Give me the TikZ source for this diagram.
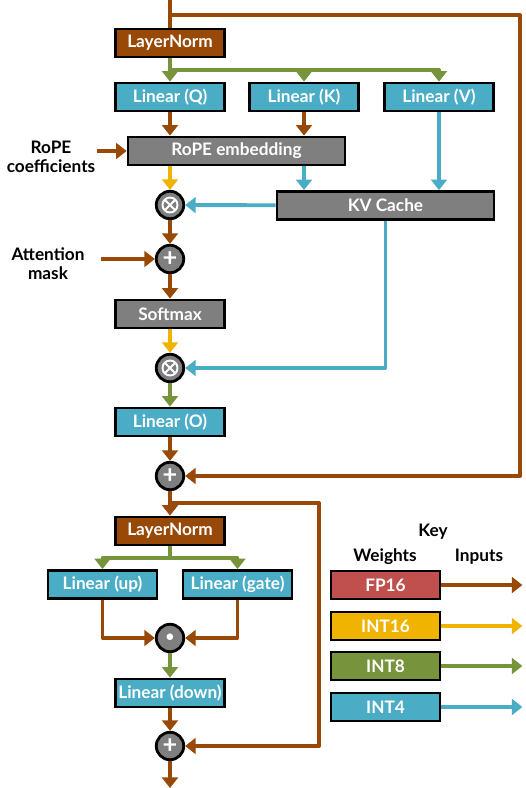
\documentclass[tikz,border=0pt]{standalone}
\usepackage{fontspec}
\setmainfont{Lato}
\usetikzlibrary{arrows.meta,positioning,calc}
\definecolor{fpc}{HTML}{984807}
\definecolor{fpw}{HTML}{C0504D}
\definecolor{ihc}{HTML}{F0B400}
\definecolor{iec}{HTML}{77933C}
\definecolor{ifc}{HTML}{4BACC6}
\definecolor{opc}{HTML}{7F7F7F}
\tikzset{
  blk/.style={rectangle,draw=black,line width=1.6pt,minimum width=2.18cm,
    minimum height=0.56cm,inner sep=0pt,text=white,
    font=\bfseries\fontsize{9.8}{11}\selectfont},
  lin/.style={blk,fill=ifc},
  norm/.style={blk,fill=fpc},
  proc/.style={blk,fill=opc},
  wide/.style={minimum width=4.34cm},
  op/.style={circle,draw=black,line width=1.6pt,fill=opc,minimum size=0.55cm,
    inner sep=0pt,text=white},
  mulop/.style={op,path picture={
    \draw[white,line width=1.1pt] (path picture bounding box.center) circle (0.15cm);
    \draw[white,line width=1.1pt] ($(path picture bounding box.center)+(-0.106cm,-0.106cm)$)
      -- ++(0.212cm,0.212cm) ++(0,-0.212cm) -- ++(-0.212cm,0.212cm);}},
  lbl/.style={align=center,font=\bfseries\fontsize{9.8}{11}\selectfont,inner sep=0pt},
  flow/.style={line width=2.2pt,line join=round,
    -{Triangle[width=9pt,length=6pt]}},
  keyflow/.style={line width=1.8pt,-{Triangle[width=9pt,length=6pt]}},
}
\begin{document}
\begin{tikzpicture}[x=0.02cm,y=-0.02cm]
\useasboundingbox (0,0) rectangle (526,788);
% attention block
\node[norm](ln1) at (170,43){LayerNorm};
\node[lin](lq) at (170,97){Linear (Q)};
\node[lin](lk) at (304,97){Linear (K)};
\node[lin](lv) at (439,97){Linear (V)};
\node[proc,wide](rope) at (236.5,151){RoPE embedding};
\node[proc,wide](kv) at (385.5,205.5){KV Cache};
\node[mulop](mul1) at (170,205){};
\node[op](add1) at (170,259){\Large\bfseries +};
\node[proc](smax) at (170,314){Softmax};
\node[mulop](mul2) at (170,368){};
\node[lin](lo) at (170,422){Linear (O)};
\node[op](add2) at (170,476){\Large\bfseries +};
% mlp block
\node[norm](ln2) at (170,531){LayerNorm};
\node[lin](lup) at (102.5,584.5){Linear (up)};
\node[lin](lgate) at (237.5,584.5){Linear (gate)};
\node[op](dot) at (170,638){\textbullet};
\node[lin](ldown) at (170,693){Linear (down)};
\node[op](add3) at (170,746){\Large\bfseries +};
% side inputs
\node[lbl](rcoef) at (51,157){RoPE\\coefficients};
\node[lbl](amask) at (48,264){Attention\\mask};
\coordinate (rin) at (97,151);
\coordinate (ain) at (101,259);
\coordinate (top) at (170,0);
\coordinate (res1) at (170,15);
\coordinate (sp1) at (170,70);
\coordinate (res2) at (170,503);
\coordinate (sp2) at (170,558);
\coordinate (out) at (170,788);
% key
\node[lbl](key) at (433,532){Key};
\node[lbl](kw) at (385,557){Weights};
\node[lbl](ki) at (479,557){Inputs};
\node[blk,fill=fpw](kfp) at (385.5,585){FP16};
\node[blk,fill=ihc](kih) at (385.5,626){INT16};
\node[blk,fill=iec](kie) at (385.5,666){INT8};
\node[blk,fill=ifc](kif) at (385.5,707){INT4};
\foreach \n/\c in {kfp/fpc,kih/ihc,kie/iec,kif/ifc}
  \draw[keyflow,\c] (\n.east) -- ++(81,0);

\draw[line width=2.2pt,fpc] (top) -- (ln1);
\draw[flow,fpc] (res1) -- (520,15) |- (add2);
\draw[flow,iec] (ln1) -- (lq);
\draw[flow,iec] (sp1) -| (lk);
\draw[flow,iec] (sp1) -| (lv);
\draw[flow,fpc] (lq) -- (lq |- rope.north);
\draw[flow,fpc] (lk) -- (lk |- rope.north);
\draw[flow,fpc] (rin) -- (rope.west);
\draw[flow,ihc] (rope.south -| lq) -- (mul1);
\draw[flow,ifc] (rope.south -| lk) -- (lk |- kv.north);
\draw[flow,ifc] (lv) -- (lv |- kv.north);
\draw[flow,ifc] (kv) -- (mul1);
\draw[flow,fpc] (mul1) -- (add1);
\draw[flow,fpc] (ain) -- (add1);
\draw[flow,fpc] (add1) -- (smax);
\draw[flow,ihc] (smax) -- (mul2);
\draw[flow,ifc] (kv.south) |- (mul2);
\draw[flow,iec] (mul2) -- (lo);
\draw[flow,fpc] (lo) -- (add2);
\draw[flow,fpc] (add2) -- (ln2);
\draw[flow,fpc] (res2) -- (319,503) |- (add3);
\draw[flow,iec] (sp2) -| (lup);
\draw[flow,iec] (sp2) -| (lgate);
\draw[line width=2.2pt,iec] (ln2) -- (sp2);
\draw[flow,fpc] (lup) |- (dot);
\draw[flow,fpc] (lgate) |- (dot);
\draw[flow,iec] (dot) -- (ldown);
\draw[flow,fpc] (ldown) -- (add3);
\draw[flow,fpc] (add3) -- (out);
\end{tikzpicture}
\end{document}
